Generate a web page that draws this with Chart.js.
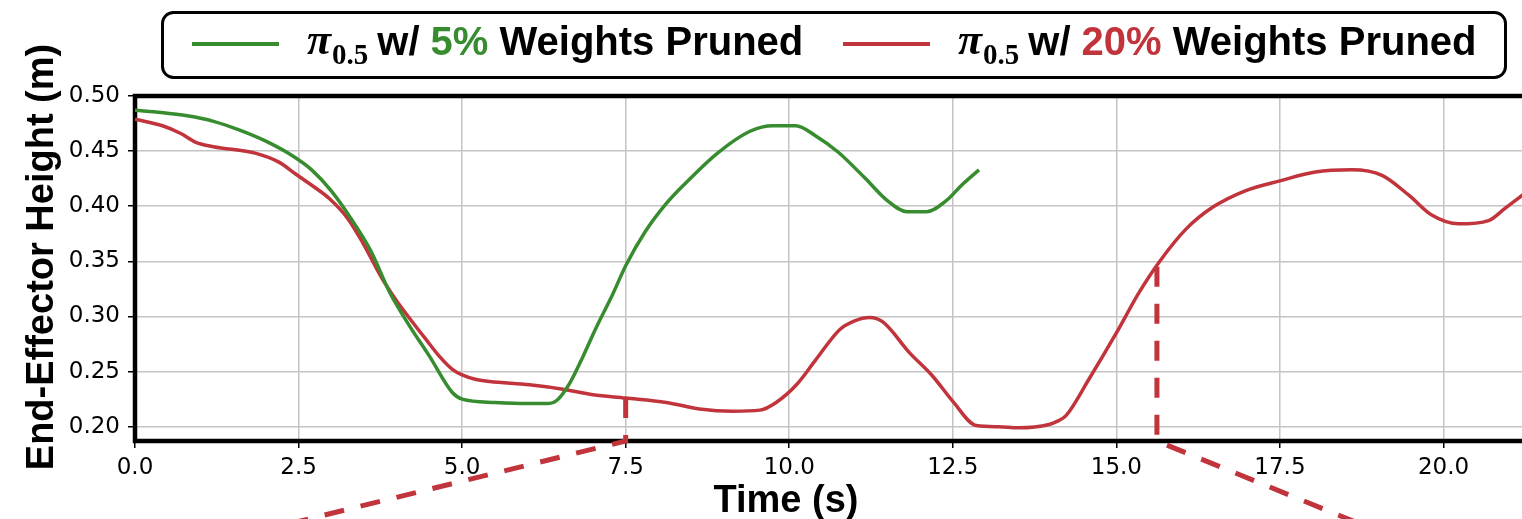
<!DOCTYPE html>
<html>
<head>
<meta charset="utf-8">
<script src="https://cdn.jsdelivr.net/npm/chart.js"></script>
<style>
  body { margin: 0; background: #fff; overflow: hidden; }
</style>
</head>
<body>
<canvas id="Chart1" width="1522" height="519"></canvas>
<script>
// time (s) and end-effector height (m)
var greenTime = [0, 0.4, 0.8, 1.2, 1.6, 2.0, 2.4, 2.7, 3.0, 3.3, 3.6, 3.9, 4.2, 4.5, 4.85, 5.0, 5.5, 6.0, 6.3, 6.45, 6.65, 6.85, 7.05, 7.3, 7.5, 7.8, 8.1, 8.4, 8.9, 9.4, 9.75, 10.1, 10.4, 10.75, 11.15, 11.5, 11.8, 12.1, 12.4, 12.65, 12.9];
var greenHeight = [0.487, 0.485, 0.482, 0.477, 0.469, 0.459, 0.446, 0.433, 0.414, 0.389, 0.360, 0.321, 0.291, 0.264, 0.231, 0.225, 0.222, 0.221, 0.221, 0.224, 0.240, 0.264, 0.290, 0.320, 0.346, 0.377, 0.401, 0.420, 0.448, 0.468, 0.473, 0.473, 0.464, 0.449, 0.426, 0.405, 0.395, 0.395, 0.405, 0.420, 0.433];

var redTime = [0, 0.42, 0.7, 0.93, 1.2, 1.85, 2.2, 2.46, 2.75, 2.97, 3.25, 3.48, 3.78, 4.0, 4.24, 4.45, 4.65, 4.85, 5.0, 5.2, 5.42, 6.03, 6.54, 7.0, 7.5, 8.12, 8.63, 9.14, 9.55, 9.8, 10.11, 10.41, 10.77, 11.0, 11.23, 11.43, 11.84, 12.19, 12.5, 12.86, 13.2, 13.5, 13.97, 14.1, 14.23, 14.58, 15.0, 15.35, 15.65, 16.06, 16.47, 16.97, 17.5, 18.04, 18.6, 19.06, 19.47, 19.82, 20.23, 20.69, 20.94, 21.25];
var redHeight = [0.479, 0.473, 0.466, 0.458, 0.454, 0.448, 0.440, 0.429, 0.417, 0.407, 0.389, 0.367, 0.334, 0.314, 0.295, 0.279, 0.264, 0.252, 0.247, 0.243, 0.241, 0.238, 0.234, 0.229, 0.226, 0.222, 0.216, 0.214, 0.215, 0.222, 0.238, 0.261, 0.288, 0.296, 0.299, 0.295, 0.267, 0.246, 0.223, 0.201, 0.200, 0.199, 0.202, 0.205, 0.210, 0.243, 0.285, 0.322, 0.349, 0.379, 0.399, 0.414, 0.423, 0.431, 0.433, 0.428, 0.410, 0.392, 0.384, 0.387, 0.398, 0.412];

// dashed zoom-in markers (they leave the axes at the bottom)
var markLeftTime = [7.5, 7.5, 0.03];
var markLeftHeight = [0.226, 0.187, 0.078];
var markRightTime = [15.62, 15.62, 20.12];
var markRightHeight = [0.345, 0.187, 0.078];

var xTicks = [0, 2.5, 5, 7.5, 10, 12.5, 15, 17.5, 20];
var yTicks = [0.20, 0.25, 0.30, 0.35, 0.40, 0.45, 0.50];

var GREEN = '#368c2f';
var RED = '#c1343c';

function points(t, h) {
	return t.map(function (v, i) { return {x: v, y: h[i]}; });
}

// spines (no right one, the figure is cropped there)
var spines = {
	id: 'spines',
	beforeDatasetsDraw: function (chart) {
		var a = chart.chartArea, ctx = chart.ctx;
		ctx.save();
		ctx.strokeStyle = '#000';
		ctx.lineWidth = 4.5;
		ctx.beginPath();
		ctx.moveTo(chart.width, a.top);
		ctx.lineTo(a.left, a.top);
		ctx.lineTo(a.left, a.bottom);
		ctx.lineTo(chart.width, a.bottom);
		ctx.stroke();
		ctx.restore();
	}
};

// axis titles and the legend box with coloured percentages
var extras = {
	id: 'extras',
	afterDraw: function (chart) {
		var ctx = chart.ctx;
		ctx.save();
		ctx.fillStyle = '#000';

		ctx.font = 'bold 38px "Liberation Sans"';
		ctx.textAlign = 'center';
		ctx.textBaseline = 'alphabetic';
		ctx.fillText('Time (s)', chart.scales.x.getPixelForValue(9.95), 512);

		ctx.translate(53, 257);
		ctx.rotate(-Math.PI / 2);
		ctx.fillText('End-Effector Height (m)', 0, 0);
		ctx.setTransform(1, 0, 0, 1, 0, 0);

		ctx.lineWidth = 3;
		ctx.strokeStyle = '#000';
		ctx.beginPath();
		ctx.roundRect(162.5, 12.5, 1343, 65, 11);
		ctx.fillStyle = '#fff';
		ctx.fill();
		ctx.stroke();

		var items = [
			{color: GREEN, pct: '5%', x: 192},
			{color: RED, pct: '20%', x: 843}
		];
		ctx.textAlign = 'left';
		items.forEach(function (it) {
			ctx.strokeStyle = it.color;
			ctx.lineWidth = 4;
			ctx.beginPath();
			ctx.moveTo(it.x, 44);
			ctx.lineTo(it.x + 87, 44);
			ctx.stroke();

			var x = it.x + 87 + 28;
			ctx.fillStyle = '#000';
			ctx.font = 'bold italic 44px "Liberation Serif"';
			ctx.fillText('\u03c0', x, 54);
			x += ctx.measureText('\u03c0').width + 1;
			ctx.font = 'bold 29px "Liberation Serif"';
			ctx.fillText('0.5', x, 64);
			x += ctx.measureText('0.5').width + 9;
			ctx.font = 'bold 40px "Liberation Sans"';
			ctx.fillText('w/ ', x, 55);
			x += ctx.measureText('w/ ').width;
			ctx.fillStyle = it.color;
			ctx.fillText(it.pct, x, 55);
			x += ctx.measureText(it.pct).width;
			ctx.fillStyle = '#000';
			ctx.fillText(' Weights Pruned', x, 55);
		});
		ctx.restore();
	}
};

var context = document.getElementById('Chart1').getContext('2d');

var myChart = new Chart(context, {
	type: 'line',
	data: {
		datasets: [{
			label: 'pi 5% pruned',
			data: points(greenTime, greenHeight),
			borderColor: GREEN,
			borderWidth: 3.5,
			pointRadius: 0,
			cubicInterpolationMode: 'monotone'
		}, {
			label: 'pi 20% pruned',
			data: points(redTime, redHeight),
			borderColor: RED,
			borderWidth: 3.5,
			pointRadius: 0,
			cubicInterpolationMode: 'monotone'
		}, {
			label: 'mark left',
			data: points(markLeftTime, markLeftHeight),
			borderColor: RED,
			borderWidth: 5,
			borderDash: [20, 17],
			pointRadius: 0,
			tension: 0,
			clip: false
		}, {
			label: 'mark right',
			data: points(markRightTime, markRightHeight),
			borderColor: RED,
			borderWidth: 5,
			borderDash: [20, 17],
			pointRadius: 0,
			tension: 0,
			clip: false
		}]
	},
	options: {
		responsive: false,
		animation: false,
		layout: { padding: { top: 96, left: 0, right: 0, bottom: 0 } },
		plugins: { legend: { display: false }, tooltip: { enabled: false } },
		scales: {
			x: {
				type: 'linear',
				min: 0,
				max: 21.2,
				afterBuildTicks: function (s) { s.ticks = xTicks.map(function (v) { return {value: v}; }); },
				afterFit: function (s) { s.height = 78; },
				ticks: {
					callback: function (v) { return v.toFixed(1); },
					font: { family: 'DejaVu Sans', size: 23 },
					color: '#000',
					padding: 6,
					maxRotation: 0,
					autoSkip: false
				},
				grid: { color: '#c4c4c4', lineWidth: 1.5, tickColor: '#000', tickLength: 7, tickWidth: 1.5 },
				border: { display: false }
			},
			y: {
				min: 0.187,
				max: 0.5,
				afterBuildTicks: function (s) { s.ticks = yTicks.map(function (v) { return {value: v}; }); },
				afterFit: function (s) { s.width = 135; },
				ticks: {
					callback: function (v) { return v.toFixed(2); },
					font: { family: 'DejaVu Sans', size: 23 },
					color: '#000',
					padding: 8
				},
				grid: { color: '#c4c4c4', lineWidth: 1.5, tickColor: '#000', tickLength: 7, tickWidth: 1.5 },
				border: { display: false }
			}
		}
	},
	plugins: [spines, extras]
});
</script>
</body>
</html>
